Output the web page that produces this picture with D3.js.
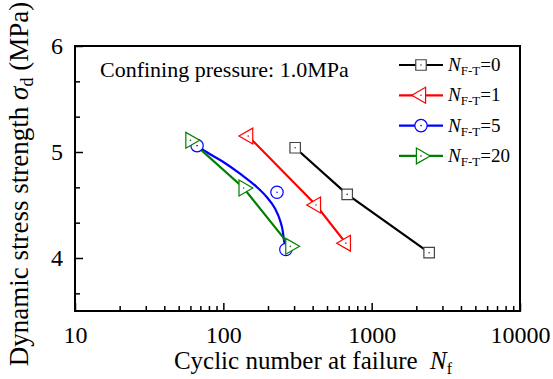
<!DOCTYPE html>
<html>
<head>
<meta charset="utf-8">
<script src="https://cdnjs.cloudflare.com/ajax/libs/d3/7.8.5/d3.min.js"></script>
<style>
  body { margin: 0; background: #fff; }
  svg text { font-family: "Liberation Serif", "Times New Roman", serif; fill: #000; }
</style>
</head>
<body>
<div id="chart"></div>
<script>
// cycles at failure (Nf) and dynamic strength (MPa) per freeze-thaw count
var seriesNames = ["0", "1", "5", "20"];
var nf0 = [305, 684, 2440];
var sd0 = [5.04, 4.60, 4.05];
var nf1 = [147, 421, 670];
var sd1 = [5.15, 4.50, 4.14];
var nf5 = [66.5, 230, 264];
var sd5 = [5.06, 4.62, 4.08];
var nf20 = [60, 137, 283];
var sd20 = [5.11, 4.66, 4.11];
// fitted curve for N=5
var fitNf5 = [66.5, 77, 100, 129.5, 168, 196, 223, 241, 251, 256.5, 264];
var fitSd5 = [5.06, 5.0, 4.906, 4.796, 4.67, 4.575, 4.466, 4.356, 4.261, 4.167, 4.08];

var xTicks = [10, 100, 1000, 10000];
var yTicks = [4, 5, 6];

var width = 553, height = 379;
var mLeft = 75, mRight = 520, mTop = 46, mBottom = 311;

var svg = d3.select("#chart").append("svg")
  .attr("width", width).attr("height", height);

var x = d3.scaleLog().domain([10, 10000]).range([mLeft, mRight]);
var y = d3.scaleLinear().domain([3.5, 6]).range([mBottom, mTop]);

// minor ticks
var xMinor = [];
[10, 100, 1000].forEach(function(d) {
  for (var k = 2; k <= 9; k++) xMinor.push(d * k);
});
var yMinor = d3.range(11, 19).map(function(k) { return k / 3; })
  .filter(function(v) { return Math.abs(v - Math.round(v)) > 0.01; });

svg.append("g").attr("transform", "translate(0," + mBottom + ")")
  .call(d3.axisBottom(x).tickValues(xMinor).tickSize(-5).tickFormat(""))
  .call(function(g) { g.select(".domain").remove(); g.selectAll("line").attr("stroke-width", 1.5); });
svg.append("g").attr("transform", "translate(0," + mBottom + ")")
  .call(d3.axisBottom(x).tickValues(xTicks).tickSize(-8).tickPadding(15).tickFormat(d3.format("d")))
  .call(function(g) {
    g.select(".domain").remove();
    g.selectAll("line").attr("stroke-width", 1.5);
    g.selectAll("text").attr("font-size", 24).attr("font-family", "Liberation Serif");
  });

svg.append("g").attr("transform", "translate(" + mLeft + ",0)")
  .call(d3.axisLeft(y).tickValues(yMinor).tickSize(-5).tickFormat(""))
  .call(function(g) { g.select(".domain").remove(); g.selectAll("line").attr("stroke-width", 1.5); });
svg.append("g").attr("transform", "translate(" + mLeft + ",0)")
  .call(d3.axisLeft(y).tickValues(yTicks).tickSize(-8).tickPadding(12).tickFormat(d3.format("d")))
  .call(function(g) {
    g.select(".domain").remove();
    g.selectAll("line").attr("stroke-width", 1.5);
    g.selectAll("text").attr("font-size", 24).attr("font-family", "Liberation Serif");
  });

// frame
svg.append("rect")
  .attr("x", mLeft).attr("y", mTop)
  .attr("width", mRight - mLeft).attr("height", mBottom - mTop)
  .attr("fill", "none").attr("stroke", "#000").attr("stroke-width", 2);

var series = [
  { name: seriesNames[0], nf: nf0, sd: sd0, color: "#000000", shape: "square" },
  { name: seriesNames[1], nf: nf1, sd: sd1, color: "#ff0000", shape: "left" },
  { name: seriesNames[2], nf: nf5, sd: sd5, color: "#0000ff", shape: "circle" },
  { name: seriesNames[3], nf: nf20, sd: sd20, color: "#008000", shape: "right" }
];

function symbolPath(shape) {
  if (shape === "square") return d3.symbol().type(d3.symbolSquare).size(110)();
  if (shape === "circle") return d3.symbol().type(d3.symbolCircle).size(120)();
  return d3.symbol().type(d3.symbolTriangle).size(110)();
}
function symbolRot(shape) {
  if (shape === "left") return "rotate(-90)";
  if (shape === "right") return "rotate(90)";
  return null;
}
function drawMarker(g, cx, cy, s) {
  var c = s.color === "#000000" ? "#444" : s.color;
  var m = g.append("g").attr("transform", "translate(" + cx + "," + cy + ")");
  m.append("path").attr("d", symbolPath(s.shape))
    .attr("transform", symbolRot(s.shape))
    .attr("fill", "#fff").attr("stroke", c)
    .attr("stroke-width", 1.2);
  m.append("circle").attr("r", 0.8).attr("fill", c);
}

var line = d3.line()
  .x(function(d) { return x(d[0]); })
  .y(function(d) { return y(d[1]); });
var curve = d3.line()
  .x(function(d) { return x(d[0]); })
  .y(function(d) { return y(d[1]); })
  .curve(d3.curveMonotoneX);

var plot = svg.append("g");
series.forEach(function(s) {
  var isFit = s.shape === "circle";
  var pts = isFit ? d3.zip(fitNf5, fitSd5) : d3.zip(s.nf, s.sd);
  plot.append("path").datum(pts)
    .attr("d", isFit ? curve : line)
    .attr("fill", "none").attr("stroke", s.color).attr("stroke-width", 2.2);
});
series.forEach(function(s) {
  s.nf.forEach(function(n, i) {
    drawMarker(plot, x(n), y(s.sd[i]), s);
  });
});

// legend
var leg = svg.append("g");
series.forEach(function(s, i) {
  var ly = 65 + i * 30.3;
  leg.append("line").attr("x1", 399).attr("x2", 443).attr("y1", ly).attr("y2", ly)
    .attr("stroke", s.color).attr("stroke-width", 2.2);
  drawMarker(leg, 421, ly, s);
  var t = leg.append("text").attr("x", 448).attr("y", ly + 6).attr("font-size", 19);
  t.append("tspan").attr("font-style", "italic").text("N");
  t.append("tspan").attr("font-size", 13).attr("dy", 4).text("F-T");
  t.append("tspan").attr("dy", -4).text("=" + s.name);
});

// annotation
svg.append("text").attr("x", 100).attr("y", 77).attr("font-size", 22)
  .text("Confining pressure: 1.0MPa");

// axis titles
var xt = svg.append("text").attr("x", 313).attr("y", 369).attr("text-anchor", "middle").attr("font-size", 25);
xt.append("tspan").text("Cyclic number at failure\u00a0\u00a0");
xt.append("tspan").attr("font-style", "italic").text("N");
xt.append("tspan").attr("font-size", 16).attr("dy", 5).text("f");

var yt = svg.append("text").attr("transform", "translate(28,184) rotate(-90)")
  .attr("text-anchor", "middle").attr("font-size", 27);
yt.append("tspan").text("Dynamic stress strength ");
yt.append("tspan").attr("font-style", "italic").text("\u03c3");
yt.append("tspan").attr("font-size", 18).attr("dy", 5).text("d");
yt.append("tspan").attr("dy", -5).text(" (MPa)");
</script>
</body>
</html>
